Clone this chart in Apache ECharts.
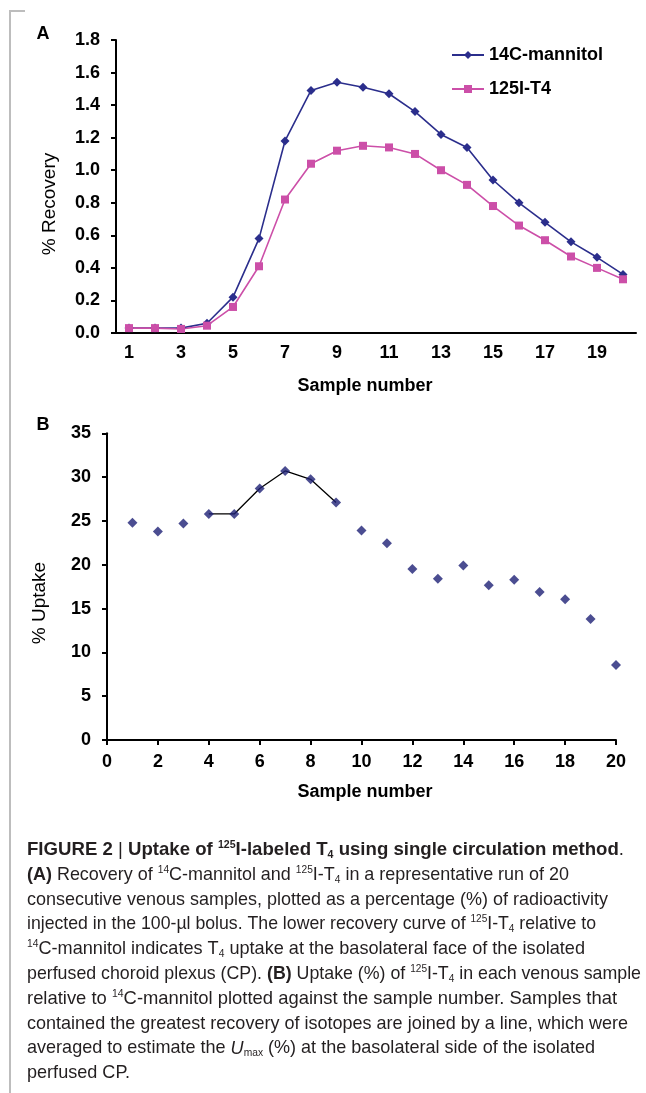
<!DOCTYPE html>
<html><head><meta charset="utf-8">
<script src="https://cdn.jsdelivr.net/npm/echarts@6/dist/echarts.min.js"></script>
<style>html,body{margin:0;padding:0;background:#fff;}#c{width:646px;height:1093px;}</style>
</head><body><div id="c"></div>
<script>
// ---------- data ----------
const sampleLabels = ['1','2','3','4','5','6','7','8','9','10','11','12','13','14','15','16','17','18','19','20'];
const mannitolRecovery = [0.03,0.03,0.03,0.06,0.22,0.58,1.18,1.49,1.54,1.51,1.47,1.36,1.22,1.14,0.94,0.80,0.68,0.56,0.465,0.36];
const t4Recovery = [0.03,0.03,0.025,0.045,0.16,0.41,0.82,1.04,1.12,1.15,1.14,1.10,1.00,0.91,0.78,0.66,0.57,0.47,0.40,0.33];
const sampleNumbers = [1,2,3,4,5,6,7,8,9,10,11,12,13,14,15,16,17,18,19,20];
const uptakePct = [24.8,23.8,24.7,25.8,25.8,28.7,30.7,29.75,27.1,23.9,22.45,19.5,18.4,19.9,17.65,18.3,16.9,16.05,13.8,8.55];
const joinedSamples = [4,5,6,7,8,9];
const seriesNames = ['14C-mannitol','125I-T4'];

// caption text lines: [style, text]
const captionLines = [
  [['b','FIGURE 2 '],['n','| '],['b','Uptake of '],['bsup','125'],['b','I-labeled T'],['bsub','4'],['b',' using single circulation method'],['n','.']],
  [['b','(A)'],['n',' Recovery of '],['sup','14'],['n','C-mannitol and '],['sup','125'],['n','I-T'],['sub','4'],['n',' in a representative run of 20']],
  [['n','consecutive venous samples, plotted as a percentage (%) of radioactivity']],
  [['n','injected in the 100-µl bolus. The lower recovery curve of '],['sup','125'],['n','I-T'],['sub','4'],['n',' relative to']],
  [['sup','14'],['n','C-mannitol indicates T'],['sub','4'],['n',' uptake at the basolateral face of the isolated']],
  [['n','perfused choroid plexus (CP). '],['b','(B)'],['n',' Uptake (%) of '],['sup','125'],['n','I-T'],['sub','4'],['n',' in each venous sample']],
  [['n','relative to '],['sup','14'],['n','C-mannitol plotted against the sample number. Samples that']],
  [['n','contained the greatest recovery of isotopes are joined by a line, which were']],
  [['n','averaged to estimate the '],['i','U'],['sub','max'],['n',' (%) at the basolateral side of the isolated']],
  [['n','perfused CP.']]
];
const captionRight = [624,569,608,596,585,641,617,628,595,null];

// ---------- styles ----------
const FF = '"Liberation Sans", Arial, Helvetica, sans-serif';
const BLUE = '#2B2E8C', PINK = '#CC4FA8', NAVY = '#1E2176', TXT = '#231F20';
const CAP_SIZE = 18.5, SUP_SIZE = 10.5;
const rich = {
  n:{fontSize:CAP_SIZE,fontFamily:FF,fill:TXT,lineHeight:21},
  b:{fontSize:CAP_SIZE,fontFamily:FF,fontWeight:'bold',fill:TXT,lineHeight:21},
  i:{fontSize:CAP_SIZE,fontFamily:FF,fontStyle:'italic',fill:TXT,lineHeight:21},
  sup:{fontSize:SUP_SIZE,fontFamily:FF,fill:TXT,lineHeight:12,verticalAlign:'top'},
  bsup:{fontSize:SUP_SIZE,fontFamily:FF,fontWeight:'bold',fill:TXT,lineHeight:12,verticalAlign:'top'},
  sub:{fontSize:SUP_SIZE,fontFamily:FF,fill:TXT,lineHeight:12,verticalAlign:'bottom'},
  bsub:{fontSize:SUP_SIZE,fontFamily:FF,fontWeight:'bold',fill:TXT,lineHeight:12,verticalAlign:'bottom'}
};
const ctx = document.createElement('canvas').getContext('2d');
function measure(line){
  let w = 0;
  line.forEach(([s,t])=>{
    const r = rich[s];
    ctx.font = (r.fontStyle||'normal')+' '+(r.fontWeight||'normal')+' '+r.fontSize+'px '+FF;
    w += ctx.measureText(t).width;
  });
  return w;
}
const CAP_X = 27, CAP_Y0 = 850, CAP_DY = 24.8;
const scales = captionLines.map((l,i)=> captionRight[i] ? (captionRight[i]-CAP_X)/measure(l) : null);
const valid = scales.filter(s=>s);
const avgScale = valid.reduce((a,b)=>a+b,0)/valid.length;
const captionGraphics = captionLines.map((l,i)=>({
  type:'text', x:CAP_X, y:CAP_Y0 + i*CAP_DY, scaleX: scales[i] || avgScale,
  style:{text: l.map(([s,t])=>'{'+s+'|'+t+'}').join(''), rich: rich, align:'left', verticalAlign:'middle', fontFamily:FF, fontSize:CAP_SIZE, fill:TXT}
}));

const chart = echarts.init(document.getElementById('c'), null, {renderer:'canvas'});
const axisLineStyle = {color:'#000', width:2};
const tickLabel = {color:'#000', fontFamily:FF, fontWeight:'bold', fontSize:18};

const option = {
  backgroundColor:'#fff',
  animation:false,
  grid:[
    {left:116, top:40, width:520, height:293},
    {left:107, top:433.3, width:509, height:306.7}
  ],
  xAxis:[
    {gridIndex:0, type:'category', data:sampleLabels, boundaryGap:true,
     axisLine:{lineStyle:axisLineStyle}, axisTick:{interval:0, length:5, lineStyle:{width:2,color:'#000'}},
     axisLabel:Object.assign({interval:1, margin:11}, tickLabel), splitLine:{show:false}},
    {gridIndex:1, type:'value', min:0, max:20, interval:2,
     axisLine:{lineStyle:axisLineStyle}, axisTick:{length:5, lineStyle:{width:2,color:'#000'}},
     axisLabel:Object.assign({margin:13}, tickLabel), splitLine:{show:false}}
  ],
  yAxis:[
    {gridIndex:0, type:'value', min:0, max:1.8, interval:0.2,
     axisLine:{show:true, lineStyle:axisLineStyle}, axisTick:{show:true, length:5, lineStyle:{width:2,color:'#000'}},
     axisLabel:Object.assign({margin:16, formatter:v=>v.toFixed(1)}, tickLabel), splitLine:{show:false}},
    {gridIndex:1, type:'value', min:0, max:35, interval:5,
     axisLine:{show:true, lineStyle:axisLineStyle}, axisTick:{show:true, length:5, lineStyle:{width:2,color:'#000'}},
     axisLabel:Object.assign({margin:16}, tickLabel), splitLine:{show:false}}
  ],
  legend:{
    data:seriesNames, orient:'vertical', left:446, top:40, itemWidth:32, itemHeight:10, itemGap:14,
    textStyle:{color:'#000', fontFamily:FF, fontWeight:'bold', fontSize:18, lineHeight:20},
    itemStyle:{borderWidth:0}
  },
  series:[
    {name:seriesNames[0], type:'line', xAxisIndex:0, yAxisIndex:0, data:mannitolRecovery,
     symbol:'diamond', symbolSize:9, itemStyle:{color:BLUE}, lineStyle:{color:BLUE, width:1.6}},
    {name:seriesNames[1], type:'line', xAxisIndex:0, yAxisIndex:0, data:t4Recovery,
     symbol:'rect', symbolSize:8, itemStyle:{color:PINK}, lineStyle:{color:PINK, width:1.6}},
    {name:'joined', type:'line', xAxisIndex:1, yAxisIndex:1,
     data:joinedSamples.map(s=>[s, uptakePct[sampleNumbers.indexOf(s)]]),
     symbol:'none', lineStyle:{color:'#000', width:1.3}, z:2},
    {name:'uptake', type:'scatter', xAxisIndex:1, yAxisIndex:1,
     data:sampleNumbers.map((s,i)=>[s, uptakePct[i]]),
     symbol:'diamond', symbolSize:10, itemStyle:{color:NAVY}, z:3}
  ],
  graphic:[
    {type:'line', shape:{x1:10,y1:11,x2:10,y2:1093}, style:{stroke:'#BDBDBD', lineWidth:2}},
    {type:'line', shape:{x1:9,y1:11,x2:25,y2:11}, style:{stroke:'#BDBDBD', lineWidth:2}},
    {type:'text', x:43, y:34, style:{text:'A', font:'bold 18px '+FF, fill:'#000', align:'center', verticalAlign:'middle'}},
    {type:'text', x:43, y:425, style:{text:'B', font:'bold 18px '+FF, fill:'#000', align:'center', verticalAlign:'middle'}},
    {type:'text', x:50, y:204, rotation:Math.PI/2, style:{text:'% Recovery', font:'19px '+FF, fill:'#000', align:'center', verticalAlign:'middle'}},
    {type:'text', x:40, y:603, rotation:Math.PI/2, style:{text:'% Uptake', font:'19px '+FF, fill:'#000', align:'center', verticalAlign:'middle'}},
    {type:'text', x:365, y:386, style:{text:'Sample number', font:'bold 18px '+FF, fill:'#000', align:'center', verticalAlign:'middle'}},
    {type:'text', x:365, y:792, style:{text:'Sample number', font:'bold 18px '+FF, fill:'#000', align:'center', verticalAlign:'middle'}}
  ].concat(captionGraphics)
};
chart.setOption(option);
</script></body></html>
